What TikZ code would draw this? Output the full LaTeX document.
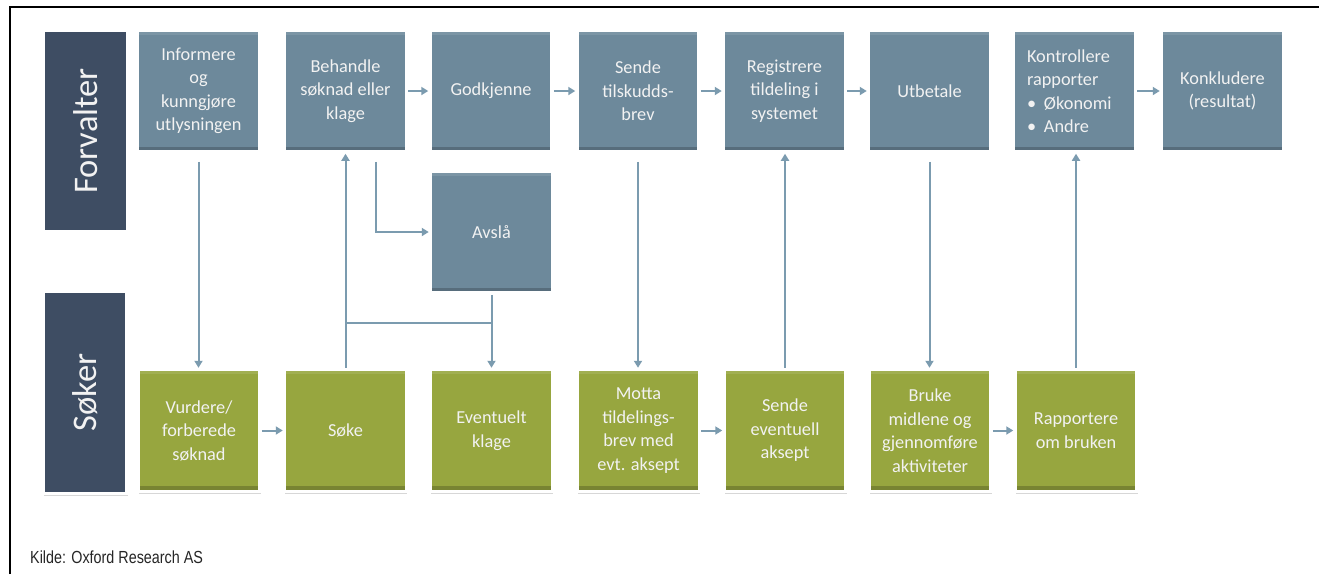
\documentclass[tikz,border=0pt]{standalone}
\usepackage{fontspec}
\setmainfont{Carlito}
\newfontfamily\arialfont{Liberation Sans}
\usetikzlibrary{arrows.meta,shadows}
\definecolor{boxblue}{HTML}{6D899B}
\definecolor{lanedark}{HTML}{3E4D63}
\definecolor{boxgreen}{HTML}{97A63F}
\definecolor{conncol}{HTML}{7B9BAF}
\definecolor{txtcol}{HTML}{F2F2F2}
\begin{document}
\begin{tikzpicture}[x=1pt,y=-1pt,
  base/.style={draw=white, line width=3.5pt, minimum width=122pt, minimum height=122pt,
    inner sep=0pt, align=center, text=txtcol, font=\fontsize{18.3}{23.5}\selectfont,
    drop shadow={shadow xshift=0.6pt, shadow yshift=-2.2pt, opacity=0.22, fill=black!70},
    path picture={
      \fill[black,opacity=0.2] (path picture bounding box.south west) rectangle ([yshift=5.5pt]path picture bounding box.south east);
      \fill[white,opacity=0.10] (path picture bounding box.north west) rectangle ([yshift=-4.5pt]path picture bounding box.north east);
    }},
  fbox/.style={base, fill=boxblue},
  gbox/.style={base, fill=boxgreen},
  lane/.style={draw=white, line width=3.5pt, inner sep=0pt, fill=lanedark, text=txtcol,
    drop shadow={shadow xshift=0.6pt, shadow yshift=-2.2pt, opacity=0.22, fill=black!70},
    font=\fontsize{34.5}{40}\selectfont},
  arr/.style={draw=conncol, line width=2pt, -{Triangle[length=7pt,width=8pt]}},
  plainline/.style={draw=conncol, line width=2pt}
]
\useasboundingbox (0,0) rectangle (1319,574);
\fill[white] (0,0) rectangle (1319,574);

% frame
\coordinate (fa) at (10,574);
\coordinate (fb) at (10,7);
\coordinate (fc) at (1319,7);
\draw[line width=2pt] (fa) -- (fb) -- (fc);

% lanes
\node[lane, minimum width=202pt, minimum height=85pt, rotate=90] (lf) at (85.5,131) {Forvalter};
\node[lane, minimum width=202pt, minimum height=84pt, rotate=90] (ls) at (85,392.5) {Søker};

% top row
\node[fbox] (inf) at (198.5,91) {Informere\\og\\kunngjøre\\utlysningen};
\node[fbox] (beh) at (345.5,91) {Behandle\\søknad eller\\klage};
\node[fbox] (god) at (491,91) {Godkjenne};
\node[fbox] (sen) at (638,91) {Sende\\tilskudds-\\brev};
\node[fbox] (reg) at (784.5,91) {Registrere\\tildeling i\\systemet};
\node[fbox] (utb) at (929.5,91) {Utbetale};
\node[fbox, align=left, text width=95pt] (kon) at (1074.5,91) {Kontrollere\\rapporter\\\makebox[17pt][l]{•}Økonomi\\\makebox[17pt][l]{•}Andre};
\node[fbox] (kkl) at (1222.5,91) {Konkludere\\(resultat)};
\node[fbox] (avs) at (491.5,232) {Avslå};

% bottom row
\node[gbox] (vur) at (199,430.5) {Vurdere/\\forberede\\søknad};
\node[gbox] (sok) at (345.5,430.5) {Søke};
\node[gbox] (evk) at (491.5,430.5) {Eventuelt\\klage};
\node[gbox] (mot) at (638.5,430.5) {Motta\\tildelings-\\brev med\\evt. aksept};
\node[gbox] (sea) at (785,430.5) {Sende\\eventuell\\aksept};
\node[gbox] (bru) at (930,430.5) {Bruke\\midlene og\\gjennomføre\\aktiviteter};
\node[gbox] (rap) at (1076,430.5) {Rapportere\\om bruken};

% horizontal arrows top
\draw[arr] (beh) -- (god);
\draw[arr] (god) -- (sen);
\draw[arr] (sen) -- (reg);
\draw[arr] (reg) -- (utb);
\draw[arr] (kon) -- (kkl);
% horizontal arrows bottom
\draw[arr] (vur) -- (sok);
\draw[arr] (mot) -- (sea);
\draw[arr] (bru) -- (rap);

% vertical connectors
\draw[arr, shorten <=8pt] (inf.south) -- (inf.south |- vur.north);
\draw[arr] (sok.north) -- (sok.north |- beh.south);
\draw[arr, shorten <=8pt] ([xshift=30.5pt]beh.south) |- (avs.west);
\draw[arr] (avs.south) -- (avs.south |- evk.north);
\coordinate (j) at (345.5,323);
\draw[plainline] (j) -- (j -| avs.south);
\draw[arr, shorten <=8pt] (sen.south) -- (sen.south |- mot.north);
\draw[arr] (sea.north) -- (sea.north |- reg.south);
\draw[arr, shorten <=8pt] (utb.south) -- (utb.south |- bru.north);
\draw[arr] (rap.north) -- (rap.north |- kon.south);

% source
\node[anchor=base west, inner sep=0pt, text=black!85] (src) at (30,563) {\arialfont\fontsize{17.5}{20}\selectfont\scalebox{0.82}[1]{Kilde: Oxford Research AS}};
\end{tikzpicture}
\end{document}
